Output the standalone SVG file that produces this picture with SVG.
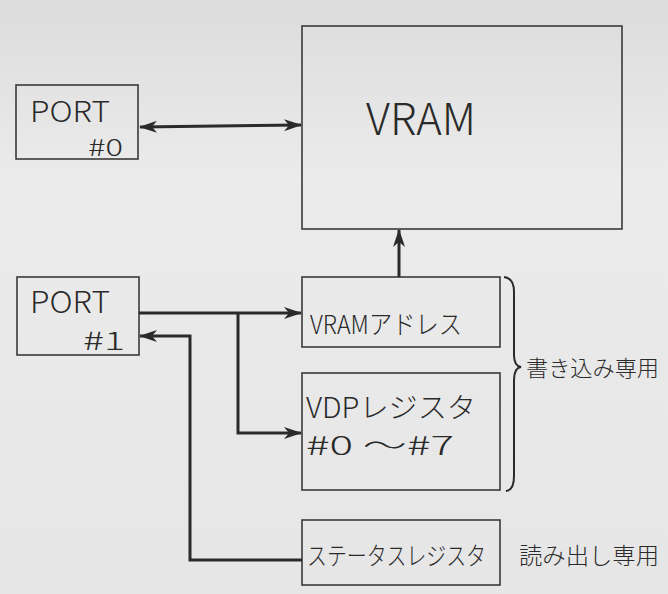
<svg xmlns="http://www.w3.org/2000/svg" width="668" height="594" viewBox="0 0 668 594">
<defs>
<linearGradient id="bg" x1="0" y1="0" x2="0" y2="1">
<stop offset="0" stop-color="#dcdcdc"/>
<stop offset="0.3" stop-color="#ebebeb"/>
<stop offset="1" stop-color="#e6e6e6"/>
</linearGradient>
<marker id="ah" viewBox="0 0 18 12" refX="17" refY="6" markerWidth="18" markerHeight="12" markerUnits="userSpaceOnUse" orient="auto-start-reverse">
<path d="M0,0 L18,6 L0,12 L5,6 Z" fill="#2a2a2a"/>
</marker>
<style>
.box{fill:none;stroke:#3a3a3a;stroke-width:1.6}
.ln{fill:none;stroke:#2a2a2a;stroke-width:3;stroke-linejoin:miter}
.t{font-family:"Noto Sans CJK JP","Liberation Sans",sans-serif;fill:#2a2a2a;font-weight:300}
</style>
</defs>
<rect width="668" height="594" fill="url(#bg)"/>
<g id="port0">
<rect class="box" x="16" y="85" width="122" height="74"/>
<text class="t" x="30" y="122" font-size="29" textLength="80" lengthAdjust="spacingAndGlyphs">PORT</text>
<text class="t" x="88" y="156" font-size="23" textLength="35" lengthAdjust="spacingAndGlyphs">#0</text>
</g>
<g id="vram">
<rect class="box" x="302" y="26" width="320" height="203"/>
<text class="t" x="366" y="135" font-size="44" textLength="110" lengthAdjust="spacingAndGlyphs">VRAM</text>
</g>
<g id="port1">
<rect class="box" x="17" y="277" width="122" height="78"/>
<text class="t" x="30" y="313" font-size="30" textLength="80" lengthAdjust="spacingAndGlyphs">PORT</text>
<text class="t" x="83" y="350" font-size="25" textLength="42" lengthAdjust="spacingAndGlyphs">#1</text>
</g>
<g id="vramaddr">
<rect class="box" x="302" y="277" width="198" height="70"/>
<text class="t" x="310" y="334" font-size="26" textLength="152" lengthAdjust="spacingAndGlyphs">VRAMアドレス</text>
</g>
<g id="vdpreg">
<rect class="box" x="302" y="373" width="198" height="117"/>
<text class="t" x="306" y="418" font-size="28" textLength="170" lengthAdjust="spacingAndGlyphs">VDPレジスタ</text>
<text class="t" x="306" y="455" font-size="26" textLength="148" lengthAdjust="spacingAndGlyphs">#0 〜#7</text>
</g>
<g id="status">
<rect class="box" x="302" y="520" width="198" height="65"/>
<text class="t" x="307" y="565" font-size="25" textLength="179" lengthAdjust="spacingAndGlyphs">ステータスレジスタ</text>
</g>
<g id="labels">
<path d="M504,277 Q514,278 514,292 L514,355 Q514,366 521,367 Q514,368 514,380 L514,476 Q514,490 506,491" fill="none" stroke="#2a2a2a" stroke-width="2"/>
<text class="t" x="526" y="376" font-size="22" textLength="133" lengthAdjust="spacingAndGlyphs">書き込み専用</text>
<text class="t" x="519" y="564" font-size="23" textLength="140" lengthAdjust="spacingAndGlyphs">読み出し専用</text>
</g>
<g id="connectors">
<line class="ln" x1="140" y1="127" x2="301" y2="125" marker-start="url(#ah)" marker-end="url(#ah)"/>
<line class="ln" x1="399" y1="277" x2="399" y2="230" marker-end="url(#ah)"/>
<line class="ln" x1="139" y1="313" x2="301" y2="313" marker-end="url(#ah)"/>
<polyline class="ln" points="238,313 238,433 301,433" marker-end="url(#ah)"/>
<polyline class="ln" points="302,560 190,560 190,336 140,336" marker-end="url(#ah)"/>
</g>
</svg>
